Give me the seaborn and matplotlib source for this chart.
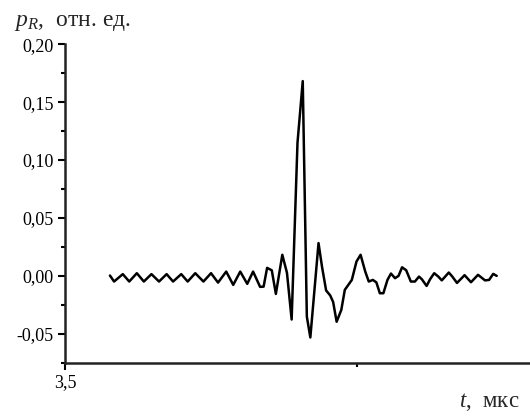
import matplotlib
matplotlib.use("Agg")
import matplotlib.pyplot as plt
import seaborn as sns
import pandas as pd
from matplotlib.ticker import FixedLocator

# time, microseconds
t_us = [3.577, 3.584, 3.599, 3.610, 3.623, 3.635, 3.648, 3.661, 3.674, 3.685,
        3.699, 3.710, 3.723, 3.737, 3.750, 3.762, 3.776, 3.788, 3.800, 3.812,
        3.822, 3.834, 3.840, 3.846, 3.854, 3.861, 3.872, 3.880, 3.888, 3.898,
        3.907, 3.914, 3.920, 3.934, 3.940, 3.947, 3.954, 3.959, 3.965, 3.973,
        3.979, 3.991, 3.999, 4.006, 4.014, 4.020, 4.027, 4.033, 4.039, 4.045,
        4.052, 4.058, 4.065, 4.071, 4.077, 4.084, 4.092, 4.099, 4.106, 4.111,
        4.119, 4.125, 4.132, 4.139, 4.145, 4.157, 4.163, 4.171, 4.184, 4.195,
        4.207, 4.219, 4.226, 4.233, 4.239]
# pressure, relative units
p_rel = [0.0003, -0.0049, 0.0015, -0.0049, 0.0023, -0.0049, 0.0015, -0.0049, 0.0015, -0.0049,
         0.0015, -0.0049, 0.0023, -0.0049, 0.0023, -0.0058, 0.0037, -0.0078, 0.0037, -0.0069,
         0.0037, -0.0095, -0.0093, 0.0069, 0.0048, -0.0156, 0.0182, 0.0026, -0.0377, 0.1149,
         0.1682, -0.0352, -0.0532, 0.0283, 0.0078, -0.0126, -0.0169, -0.0225, -0.0396, -0.0294,
         -0.0121, -0.0035, 0.0124, 0.0182, 0.0037, -0.0049, -0.0035, -0.0056, -0.0150, -0.0150,
         -0.0035, 0.0020, -0.0020, 0.0000, 0.0074, 0.0049, -0.0049, -0.0049, -0.0006, -0.0030,
         -0.0087, -0.0029, 0.0023, -0.0006, -0.0039, 0.0029, -0.0006, -0.0061, 0.0006, -0.0055,
         0.0009, -0.0039, -0.0035, 0.0017, 0.0000]

y_ticks = [-0.05, 0.00, 0.05, 0.10, 0.15, 0.20]
y_tick_labels = ["-0,05", "0,00", "0,05", "0,10", "0,15", "0,20"]
y_minor = [-0.075, -0.025, 0.025, 0.075, 0.125, 0.175]
x_ticks = [3.5]
x_tick_labels = ["3,5"]
x_minor = [4.0]

sns.set_style("ticks")
plt.rcParams["font.family"] = ["Liberation Serif", "DejaVu Serif"]
plt.rcParams["mathtext.fontset"] = "custom"
plt.rcParams["mathtext.rm"] = "Liberation Serif"
plt.rcParams["mathtext.it"] = "Liberation Serif:italic"

df = pd.DataFrame({"t": t_us, "p": p_rel})

fig = plt.figure(figsize=(5.30, 4.17), dpi=100)
ax = fig.add_axes([0.1226, 0.1302, 0.8774, 0.7636])
sns.lineplot(data=df, x="t", y="p", ax=ax, color="black", linewidth=1.8, sort=False)

ax.set_xlim(3.5, 4.296)
ax.set_ylim(-0.075, 0.20)
ax.set_xticks(x_ticks)
ax.set_xticklabels(x_tick_labels)
ax.xaxis.set_minor_locator(FixedLocator(x_minor))
ax.set_yticks(y_ticks)
ax.set_yticklabels(y_tick_labels)
ax.yaxis.set_minor_locator(FixedLocator(y_minor))
ax.tick_params(axis="both", which="major", direction="out", length=5, width=1.5,
               labelsize=13, colors="black", pad=3)
ax.tick_params(axis="both", which="minor", direction="out", length=3, width=1.5, colors="black")
ax.set_xlabel("")
ax.set_ylabel("")
for s in ["top", "right"]:
    ax.spines[s].set_visible(False)
for s in ["left", "bottom"]:
    ax.spines[s].set_linewidth(1.8)
    ax.spines[s].set_color("#222222")

fig.text(14 / 530, 1 - 26 / 417, r"$p_R$,  отн. ед.", fontsize=17, ha="left", va="baseline")
fig.text(459 / 530, 1 - 407 / 417, r"$t$,  мкс", fontsize=16.5, ha="left", va="baseline")

fig.savefig("out.png", dpi=100)
